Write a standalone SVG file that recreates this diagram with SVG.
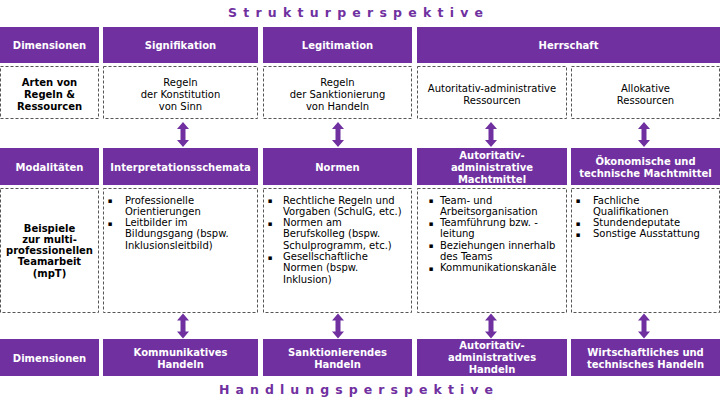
<svg xmlns="http://www.w3.org/2000/svg" xmlns:xlink="http://www.w3.org/1999/xlink" width="720" height="404" viewBox="0 0 720 404">
<style>
.p{fill:#7030A0}
.d{fill:#fff;stroke:#555;stroke-width:1;stroke-dasharray:3 2}
text{font-family:"DejaVu Sans","Verdana",sans-serif;font-size:10px}
.w{fill:#fff;font-weight:bold;text-anchor:middle}
.c{fill:#000;text-anchor:middle}
.u{fill:#000;text-anchor:middle;font-size:7px}
.b{fill:#000;font-weight:bold;text-anchor:middle}
.t{fill:#000}
.ttl{fill:#7030A0;font-weight:bold;font-size:12.5px}
</style>
<defs>
<path id="arr" class="p" d="M0,0 L6,7 L2.5,7 L2.5,18 L6,18 L0,25 L-6,18 L-2.5,18 L-2.5,7 L-6,7 Z"/>
</defs>
<rect width="720" height="404" fill="#fff"/>
<text class="ttl" x="228" y="17" textLength="255" lengthAdjust="spacing">Strukturperspektive</text>
<text class="ttl" x="219" y="394" textLength="274" lengthAdjust="spacing">Handlungsperspektive</text>

<g id="r1c0"><rect class="p" x="0" y="27" width="99" height="36"/><text class="w" x="49.5" y="48.5">Dimensionen</text></g>
<g id="r1c1"><rect class="p" x="103" y="27" width="155" height="36"/><text class="w" x="180.5" y="48.5">Signifikation</text></g>
<g id="r1c2"><rect class="p" x="263" y="27" width="149" height="36"/><text class="w" x="337.5" y="48.5">Legitimation</text></g>
<g id="r1c3"><rect class="p" x="417" y="27" width="303" height="36"/><text class="w" x="568.5" y="48.5">Herrschaft</text></g>

<g id="r2c0"><rect class="d" x="0.5" y="66.5" width="98" height="52"/><text class="b" x="49.5" y="85.5">Arten von</text><text class="b" x="49.5" y="97.5">Regeln &amp;</text><text class="b" x="49.5" y="109.5">Ressourcen</text></g>
<g id="r2c1"><rect class="d" x="103.5" y="66.5" width="154" height="52"/><text class="c" x="180.5" y="85.5">Regeln</text><text class="c" x="180.5" y="97.5">der Konstitution</text><text class="c" x="180.5" y="109.5">von Sinn</text></g>
<g id="r2c2"><rect class="d" x="263.5" y="66.5" width="148" height="52"/><text class="c" x="337.5" y="85.5">Regeln</text><text class="c" x="337.5" y="97.5">der Sanktionierung</text><text class="c" x="337.5" y="109.5">von Handeln</text></g>
<g id="r2c3"><rect class="d" x="417.5" y="66.5" width="149" height="52"/><text class="c" x="492" y="91.5">Autoritativ-administrative</text><text class="c" x="492" y="103.5">Ressourcen</text></g>
<g id="r2c4"><rect class="d" x="571.5" y="66.5" width="148" height="52"/><text class="c" x="645.5" y="91.5">Allokative</text><text class="c" x="645.5" y="103.5">Ressourcen</text></g>

<g id="r3c0"><rect class="p" x="0" y="148" width="99" height="37"/><text class="w" x="49.5" y="170.5">Modalitäten</text></g>
<g id="r3c1"><rect class="p" x="103" y="148" width="155" height="37"/><text class="w" x="180.5" y="170.5">Interpretationsschemata</text></g>
<g id="r3c2"><rect class="p" x="263" y="148" width="149" height="37"/><text class="w" x="337.5" y="170.5">Normen</text></g>
<g id="r3c3"><rect class="p" x="417" y="148" width="150" height="37"/><text class="w" x="492" y="158.5">Autoritativ-</text><text class="w" x="492" y="170.5">administrative</text><text class="w" x="492" y="182.5">Machtmittel</text></g>
<g id="r3c4"><rect class="p" x="571" y="148" width="149" height="37"/><text class="w" x="645.5" y="164.5">Ökonomische und</text><text class="w" x="645.5" y="176.5">technische Machtmittel</text></g>

<g id="r4c0"><rect class="d" x="0.5" y="188.5" width="98" height="124"/>
<text class="b" x="49.5" y="231.5">Beispiele</text><text class="b" x="49.5" y="242.8">zur multi-</text><text class="b" x="49.5" y="254.1">professionellen</text><text class="b" x="49.5" y="265.4">Teamarbeit</text><text class="b" x="49.5" y="276.7">(mpT)</text></g>
<g id="r4c1"><rect class="d" x="103.5" y="188.5" width="154" height="124"/>
<text class="u" x="110" y="203">▪</text><text class="t" x="125" y="203.5">Professionelle</text><text class="t" x="125" y="214.8">Orientierungen</text>
<text class="u" x="110" y="225.6">▪</text><text class="t" x="125" y="226.1">Leitbilder im</text><text class="t" x="125" y="237.4">Bildungsgang (bspw.</text><text class="t" x="125" y="248.7">Inklusionsleitbild)</text></g>
<g id="r4c2"><rect class="d" x="263.5" y="188.5" width="148" height="124"/>
<text class="u" x="270" y="203">▪</text><text class="t" x="283" y="203.5">Rechtliche Regeln und</text><text class="t" x="283" y="214.8">Vorgaben (SchulG, etc.)</text>
<text class="u" x="270" y="225.6">▪</text><text class="t" x="283" y="226.1">Normen am</text><text class="t" x="283" y="237.4">Berufskolleg (bspw.</text><text class="t" x="283" y="248.7">Schulprogramm, etc.)</text>
<text class="u" x="270" y="259.5">▪</text><text class="t" x="283" y="260">Gesellschaftliche</text><text class="t" x="283" y="271.3">Normen (bspw.</text><text class="t" x="283" y="282.6">Inklusion)</text></g>
<g id="r4c3"><rect class="d" x="417.5" y="188.5" width="149" height="124"/>
<text class="u" x="431" y="203">▪</text><text class="t" x="440" y="203.5">Team- und</text><text class="t" x="440" y="214.8">Arbeitsorganisation</text>
<text class="u" x="431" y="225.6">▪</text><text class="t" x="440" y="226.1">Teamführung bzw. -</text><text class="t" x="440" y="237.4">leitung</text>
<text class="u" x="431" y="248.2">▪</text><text class="t" x="440" y="248.7">Beziehungen innerhalb</text><text class="t" x="440" y="260">des Teams</text>
<text class="u" x="431" y="270.8">▪</text><text class="t" x="440" y="271.3">Kommunikationskanäle</text></g>
<g id="r4c4"><rect class="d" x="571.5" y="188.5" width="148" height="124"/>
<text class="u" x="578" y="203">▪</text><text class="t" x="593" y="203.5">Fachliche</text><text class="t" x="593" y="214.8">Qualifikationen</text>
<text class="u" x="578" y="225.6">▪</text><text class="t" x="593" y="226.1">Stundendeputate</text>
<text class="u" x="578" y="236.9">▪</text><text class="t" x="593" y="237.4">Sonstige Ausstattung</text></g>

<g id="r5c0"><rect class="p" x="0" y="339" width="99" height="37"/><text class="w" x="49.5" y="361.5">Dimensionen</text></g>
<g id="r5c1"><rect class="p" x="103" y="339" width="155" height="37"/><text class="w" x="180.5" y="355.5">Kommunikatives</text><text class="w" x="180.5" y="367.5">Handeln</text></g>
<g id="r5c2"><rect class="p" x="263" y="339" width="149" height="37"/><text class="w" x="337.5" y="355.5">Sanktionierendes</text><text class="w" x="337.5" y="367.5">Handeln</text></g>
<g id="r5c3"><rect class="p" x="417" y="339" width="150" height="37"/><text class="w" x="492" y="348.5">Autoritativ-</text><text class="w" x="492" y="360.5">administratives</text><text class="w" x="492" y="372.5">Handeln</text></g>
<g id="r5c4"><rect class="p" x="571" y="339" width="149" height="37"/><text class="w" x="645.5" y="355.5">Wirtschaftliches und</text><text class="w" x="645.5" y="367.5">technisches Handeln</text></g>

<g id="connectors">
<use xlink:href="#arr" x="183" y="122"/>
<use xlink:href="#arr" x="338" y="122"/>
<use xlink:href="#arr" x="491" y="122"/>
<use xlink:href="#arr" x="644" y="122"/>
<use xlink:href="#arr" x="183" y="313.5"/>
<use xlink:href="#arr" x="338" y="313.5"/>
<use xlink:href="#arr" x="491" y="313.5"/>
<use xlink:href="#arr" x="644" y="313.5"/>
</g>
</svg>
